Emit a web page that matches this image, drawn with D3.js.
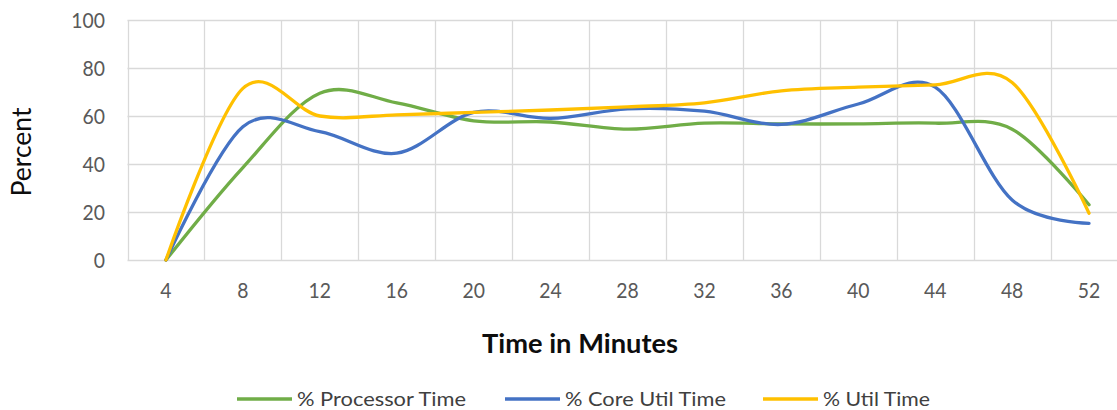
<!DOCTYPE html>
<html>
<head>
<meta charset="utf-8">
<script src="https://cdn.jsdelivr.net/npm/d3@7"></script>
<style>
  html, body { margin: 0; padding: 0; background: #fff; }
  svg { display: block; font-family: Lato, "Open Sans", sans-serif; }
</style>
</head>
<body>
<svg id="chart" width="1117" height="410"></svg>
<script>
// Sample times (minutes) shown along the category axis
const minutes = ["4", "8", "12", "16", "20", "24", "28", "32", "36", "40", "44", "48", "52"];

// Utilisation readings, percent
const processorTime = [0, 38.5, 69.5, 65.5, 58, 57.5, 54.5, 57, 56.7, 56.7, 57, 54.5, 23];
const coreUtilTime  = [0, 55.5, 53.5, 44.5, 61.5, 59, 63, 62, 56.5, 65, 72, 25, 15.3];
const utilTime      = [0, 71.5, 60, 60.5, 61.5, 62.5, 63.8, 65.5, 70.5, 72, 73, 74, 19.5];

const yTicks = [0, 20, 40, 60, 80, 100];

const seriesNames  = ["% Processor Time", "% Core Util Time", "% Util Time"];
const seriesColors = ["#70AD47", "#4472C4", "#FFC000"];
const seriesValues = [processorTime, coreUtilTime, utilTime];

const svg = d3.select("#chart");

const plot = { left: 127.5, right: 1127.5, top: 20, bottom: 260 };

const x = d3.scaleBand().domain(minutes).range([plot.left, plot.right]).padding(0);
const y = d3.scaleLinear().domain([0, 100]).range([plot.bottom, plot.top]);
const cx = m => x(m) + x.bandwidth() / 2;

const grid = svg.append("g").attr("class", "grid");

// horizontal gridlines
grid.selectAll("line.h").data(yTicks).join("line")
  .attr("class", "h")
  .attr("x1", plot.left).attr("x2", plot.right)
  .attr("y1", d => Math.round(y(d)) + 0.5).attr("y2", d => Math.round(y(d)) + 0.5)
  .attr("stroke", "#d9d9d9").attr("stroke-width", 1.3);

// vertical gridlines at category boundaries
const bounds = minutes.map(m => x(m)).concat([plot.right]);
grid.selectAll("line.v").data(bounds).join("line")
  .attr("class", "v")
  .attr("x1", d => Math.round(d) + 0.5).attr("x2", d => Math.round(d) + 0.5)
  .attr("y1", plot.top).attr("y2", plot.bottom)
  .attr("stroke", "#d9d9d9").attr("stroke-width", 1.3);

// y tick labels
const yAxis = d3.axisLeft(y).tickValues(yTicks).tickSize(0).tickPadding(0);
const gy = svg.append("g").attr("transform", "translate(105,0)").call(yAxis);
gy.select(".domain").remove();
gy.selectAll("text")
  .attr("x", 0).attr("dy", "0.35em")
  .attr("fill", "#595959").style("font-size", "22px").style("font-family", "Lato, sans-serif");

// x tick labels
const xAxis = d3.axisBottom(x).tickSize(0).tickPadding(0);
const gx = svg.append("g").attr("transform", "translate(0,290)").call(xAxis);
gx.select(".domain").remove();
gx.selectAll("text")
  .attr("y", 0).attr("dy", "0.35em")
  .attr("fill", "#595959").style("font-size", "22px").style("font-family", "Lato, sans-serif");

// series lines
const line = d3.line()
  .x((d, i) => cx(minutes[i]))
  .y(d => y(d))
  .curve(d3.curveCardinal.tension(0));

svg.append("g").selectAll("path").data(seriesValues).join("path")
  .attr("d", d => line(d))
  .attr("fill", "none")
  .attr("stroke", (d, i) => seriesColors[i])
  .attr("stroke-width", 3.3)
  .attr("stroke-linecap", "round")
  .attr("stroke-linejoin", "round");

// axis titles
svg.append("text")
  .attr("x", 580).attr("y", 353)
  .attr("text-anchor", "middle")
  .attr("fill", "#0d0d0d")
  .style("font-size", "27px").style("font-weight", "bold")
  .attr("data-w", 196)
  .text("Time in Minutes");

svg.append("text")
  .attr("transform", "translate(31,152) rotate(-90)")
  .attr("text-anchor", "middle")
  .attr("fill", "#0d0d0d")
  .style("font-size", "27px")
  .attr("data-w", 89)
  .text("Percent");

// legend
const legendX = [237, 505, 763];
const legendW = [169, 161, 107];
const legend = svg.append("g").selectAll("g").data(seriesNames).join("g")
  .attr("transform", (d, i) => `translate(${legendX[i]},399)`);
legend.append("line")
  .attr("x1", 0).attr("x2", 55).attr("y1", 0).attr("y2", 0)
  .attr("stroke", (d, i) => seriesColors[i]).attr("stroke-width", 3.5);
legend.append("text")
  .attr("x", 60).attr("y", 0).attr("dy", "0.35em")
  .attr("fill", "#404040")
  .style("font-size", "20px")
  .attr("data-w", (d, i) => legendW[i])
  .text(d => d);

// condense text to the narrower proportions of the chart's typeface
svg.selectAll("text").each(function () {
  const t = d3.select(this);
  const target = t.attr("data-w");
  const w = target ? +target : this.getComputedTextLength() * 0.88;
  t.attr("textLength", w).attr("lengthAdjust", "spacingAndGlyphs");
});
</script>
</body>
</html>
